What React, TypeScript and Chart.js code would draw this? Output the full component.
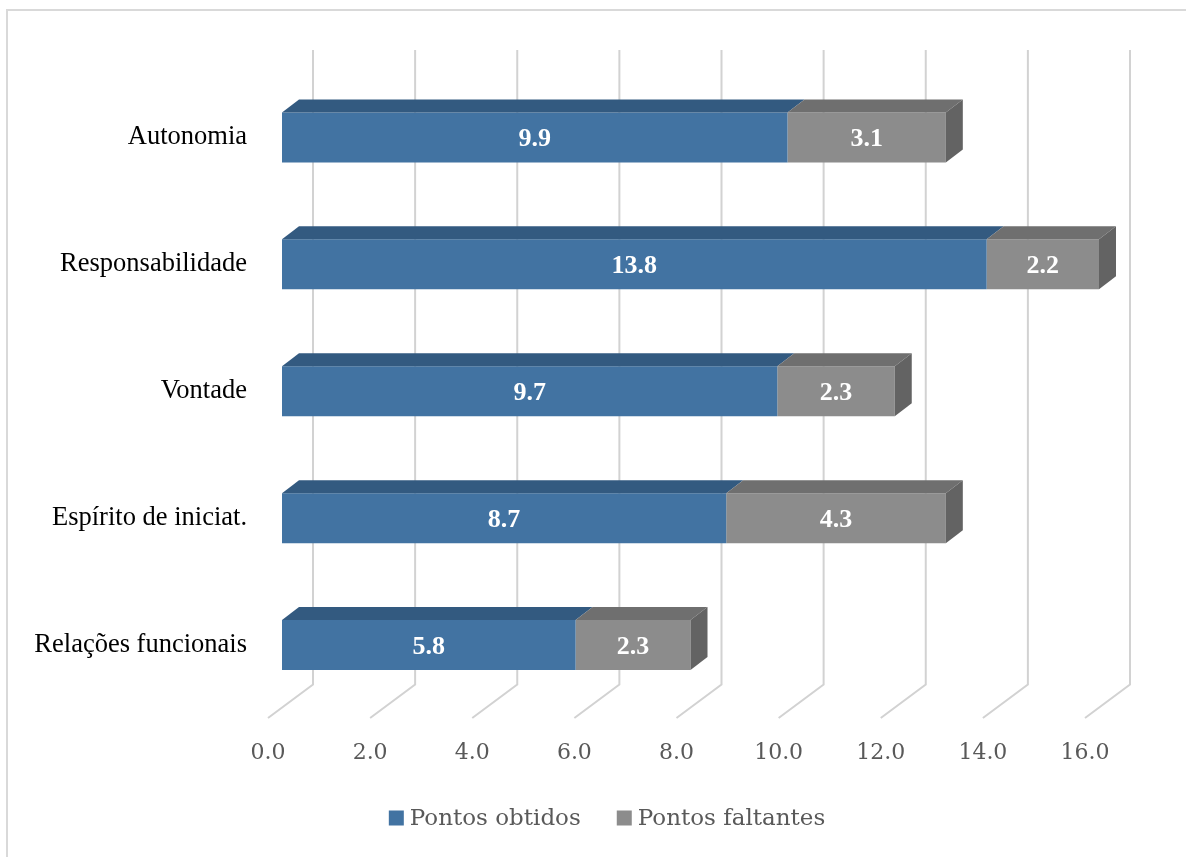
import React, { useEffect, useRef } from "react";
import { Chart, registerables } from "chart.js";

Chart.register(...registerables);

const categories = [
  "Autonomia",
  "Responsabilidade",
  "Vontade",
  "Espírito de iniciat.",
  "Relações funcionais",
];
const pontosObtidos = [9.9, 13.8, 9.7, 8.7, 5.75];
const pontosFaltantes = [3.1, 2.2, 2.3, 4.3, 2.25];
const seriesNames = ["Pontos obtidos", "Pontos faltantes"];
const xMin = 0;
const xMax = 16;
const xStep = 2;

const frontColors = ["#4273a2", "#8c8c8c"];
const topColors = ["#335a80", "#6f6f6f"];
const sideColors = ["#2f5375", "#636363"];

const DEPTH_X = 17;
const DEPTH_Y = -13;
const WALL_X = 31;
const WALL_Y = -24;
const FLOOR_X = -14;
const FLOOR_Y = 9.5;

const threeD = {
  id: "threeD",
  beforeDatasetsDraw(chart: any) {
    const { ctx, chartArea, scales } = chart;
    const x = scales.x;
    ctx.save();
    ctx.strokeStyle = "#d9d9d9";
    ctx.lineWidth = 2;
    ctx.beginPath();
    ctx.moveTo(7, chart.height);
    ctx.lineTo(7, 10);
    ctx.lineTo(chart.width, 10);
    ctx.stroke();
    ctx.strokeStyle = "#d2d2d2";
    ctx.lineWidth = 2;
    x.ticks.forEach((t: any) => {
      const px = x.getPixelForValue(t.value);
      const bx = px + WALL_X;
      ctx.beginPath();
      ctx.moveTo(bx, chartArea.top + WALL_Y);
      ctx.lineTo(bx, chartArea.bottom + WALL_Y);
      ctx.lineTo(px + FLOOR_X, chartArea.bottom + FLOOR_Y);
      ctx.stroke();
    });
    ctx.restore();
  },
  afterDatasetsDraw(chart: any) {
    const { ctx } = chart;
    const n = chart.data.datasets.length;
    ctx.save();
    for (let d = 0; d < n; d++) {
      const meta = chart.getDatasetMeta(d);
      meta.data.forEach((el: any) => {
        const { x, y, base, height } = el.getProps(["x", "y", "base", "height"], true);
        const top = y - height / 2;
        const bottom = y + height / 2;
        ctx.fillStyle = topColors[d];
        ctx.beginPath();
        ctx.moveTo(base, top);
        ctx.lineTo(x, top);
        ctx.lineTo(x + DEPTH_X, top + DEPTH_Y);
        ctx.lineTo(base + DEPTH_X, top + DEPTH_Y);
        ctx.closePath();
        ctx.fill();
        if (d === n - 1) {
          ctx.fillStyle = sideColors[d];
          ctx.beginPath();
          ctx.moveTo(x, top);
          ctx.lineTo(x + DEPTH_X, top + DEPTH_Y);
          ctx.lineTo(x + DEPTH_X, bottom + DEPTH_Y);
          ctx.lineTo(x, bottom);
          ctx.closePath();
          ctx.fill();
        }
      });
    }
    ctx.fillStyle = "#ffffff";
    ctx.font = "bold 26px 'Liberation Serif'";
    ctx.textAlign = "center";
    ctx.textBaseline = "middle";
    for (let d = 0; d < n; d++) {
      const meta = chart.getDatasetMeta(d);
      const values = chart.data.datasets[d].data;
      meta.data.forEach((el: any, i: number) => {
        const { x, y, base } = el.getProps(["x", "y", "base"], true);
        ctx.fillText(Number(values[i]).toFixed(1), (base + x) / 2, y + 2);
      });
    }
    ctx.restore();
  },
  afterDraw(chart: any) {
    const { ctx } = chart;
    ctx.save();
    ctx.font = "23px 'DejaVu Serif'";
    ctx.textBaseline = "middle";
    ctx.textAlign = "left";
    const box = 15;
    const gap = 6;
    const spacing = 36;
    const ds = chart.data.datasets;
    const widths = ds.map((s: any) => box + gap + ctx.measureText(s.label).width);
    const total = widths.reduce((a: number, b: number) => a + b, 0) + spacing * (ds.length - 1);
    let cx = 607 - total / 2;
    const cy = 818;
    ds.forEach((s: any, i: number) => {
      ctx.fillStyle = s.backgroundColor;
      ctx.fillRect(cx, cy - box / 2, box, box);
      ctx.fillStyle = "#595959";
      ctx.fillText(s.label, cx + box + gap, cy + 1);
      cx += widths[i] + spacing;
    });
    ctx.restore();
  },
};

export default function App() {
  const ref = useRef<HTMLCanvasElement | null>(null);
  useEffect(() => {
    if (!ref.current) return;
    const chart = new Chart(ref.current, {
      type: "bar",
      data: {
        labels: categories,
        datasets: [
          {
            label: seriesNames[0],
            data: pontosObtidos,
            backgroundColor: frontColors[0],
            barPercentage: 0.394,
            categoryPercentage: 1,
          },
          {
            label: seriesNames[1],
            data: pontosFaltantes,
            backgroundColor: frontColors[1],
            barPercentage: 0.394,
            categoryPercentage: 1,
          },
        ],
      },
      options: {
        indexAxis: "y",
        animation: false,
        responsive: false,
        devicePixelRatio: 1,
        layout: { padding: { top: 74, right: 87, bottom: 60, left: 0 } },
        plugins: {
          legend: { display: false },
          tooltip: { enabled: false },
        },
        scales: {
          x: {
            stacked: true,
            min: xMin,
            max: xMax,
            grid: { display: false, drawTicks: false },
            border: { display: false },
            ticks: {
              stepSize: xStep,
              labelOffset: FLOOR_X,
              padding: 32,
              color: "#595959",
              font: { family: "'DejaVu Serif'", size: 22 },
              callback: (v: any) => Number(v).toFixed(1),
              autoSkip: false,
              maxRotation: 0,
            },
            afterFit: (scale: any) => {
              scale.height = 88.5;
            },
          },
          y: {
            stacked: true,
            grid: { display: false, drawTicks: false },
            border: { display: false },
            ticks: {
              padding: 35,
              color: "#000000",
              font: { family: "'Liberation Serif'", size: 26.5 },
            },
            afterFit: (scale: any) => {
              scale.width = 282;
            },
          },
        },
      },
      plugins: [threeD],
    });
    return () => chart.destroy();
  }, []);
  return (
    <div style={{ position: "absolute", left: 0, top: 0, width: 1186, height: 857, background: "#ffffff" }}>
      <canvas ref={ref} width={1186} height={857} style={{ display: "block", width: 1186, height: 857 }} />
    </div>
  );
}
